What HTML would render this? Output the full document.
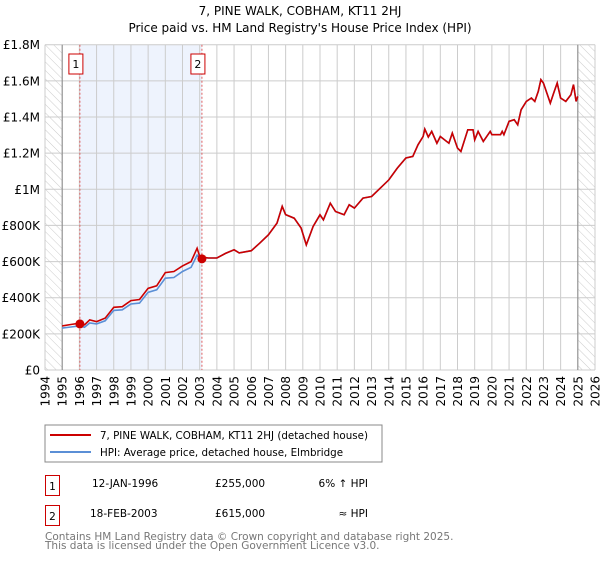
<!DOCTYPE html>
<html><head><meta charset="utf-8"><style>
body{margin:0;background:#fff;font-family:"Liberation Sans","DejaVu Sans",sans-serif;}
svg text{font-family:"DejaVu Sans","Liberation Sans",sans-serif;}
</style></head><body>
<svg id="c" width="600" height="560" xmlns="http://www.w3.org/2000/svg">
<defs><pattern id="hatch" width="6" height="6" patternUnits="userSpaceOnUse" patternTransform="rotate(-45)"><line x1="0" y1="0" x2="0" y2="6" stroke="#ccc" stroke-width="1"/></pattern></defs>
<text x="300" y="15" text-anchor="middle" font-size="12">7, PINE WALK, COBHAM, KT11 2HJ</text>
<text x="300" y="32" text-anchor="middle" font-size="12">Price paid vs. HM Land Registry's House Price Index (HPI)</text>
<g id="plot"></g>
<rect x="45" y="425" width="337" height="37" fill="#fff" stroke="#888"/>
<line x1="50" y1="435" x2="91" y2="435" stroke="#c00" stroke-width="2"/>
<text x="100" y="439" font-size="10.3">7, PINE WALK, COBHAM, KT11 2HJ (detached house)</text>
<line x1="50" y1="452" x2="91" y2="452" stroke="#5b8fd6" stroke-width="2"/>
<text x="100" y="456" font-size="10.3">HPI: Average price, detached house, Elmbridge</text>
<g font-size="10.5">
<rect x="45.5" y="475.5" width="14" height="20" fill="#fff" stroke="#c00"/>
<text x="52.5" y="490" text-anchor="middle">1</text>
<text x="92" y="487">12-JAN-1996</text>
<text x="215" y="487">£255,000</text>
<text x="368" y="487" text-anchor="end">6% ↑ HPI</text>
<rect x="45.5" y="505.5" width="14" height="20" fill="#fff" stroke="#c00"/>
<text x="52.5" y="520" text-anchor="middle">2</text>
<text x="90" y="517">18-FEB-2003</text>
<text x="215" y="517">£615,000</text>
<text x="368" y="517" text-anchor="end">≈ HPI</text>
</g>
<text x="45" y="540" font-size="10.5" fill="#777">Contains HM Land Registry data © Crown copyright and database right 2025.</text>
<text x="45" y="549" font-size="10.5" fill="#777">This data is licensed under the Open Government Licence v3.0.</text>
</svg>
<script>
const years=[1995,1995.5,1996,1996.3,1996.6,1997,1997.5,1998,1998.5,1999,1999.5,2000,2000.5,2001,2001.5,2002,2002.5,2002.85,2003,2003.5,2004,2004.5,2005,2005.3,2006,2006.5,2007,2007.5,2007.8,2008,2008.5,2008.9,2009.2,2009.6,2010,2010.2,2010.6,2010.9,2011.4,2011.7,2012,2012.5,2013,2013.5,2014,2014.5,2015,2015.4,2015.7,2016,2016.1,2016.3,2016.5,2016.8,2017,2017.5,2017.7,2018,2018.2,2018.6,2018.9,2019,2019.2,2019.5,2019.9,2020,2020.5,2020.6,2020.7,2021,2021.3,2021.5,2021.7,2022,2022.3,2022.5,2022.7,2022.85,2023,2023.4,2023.6,2023.8,2024,2024.3,2024.6,2024.75,2024.9,2025];
const priceValues=[244,252,259,250,277,268,287,347,350,384,390,452,466,539,545,576,600,674,628,620,620,645,665,648,660,702,748,813,905,860,840,786,692,794,859,831,923,877,859,914,896,951,960,1006,1052,1117,1173,1182,1246,1292,1333,1289,1320,1255,1292,1255,1311,1228,1209,1329,1329,1274,1320,1265,1320,1302,1302,1320,1302,1376,1385,1357,1440,1486,1505,1486,1542,1607,1588,1477,1533,1588,1505,1486,1523,1579,1486,1514];
const hpiValues=[232,238,244,236,260,255,272,330,333,365,370,430,444,508,512,545,568,636,620,620,620,645,665,648,660,702,748,813,905,860,840,786,692,794,859,831,923,877,859,914,896,951,960,1006,1052,1117,1173,1182,1246,1292,1333,1289,1320,1255,1292,1255,1311,1228,1209,1329,1329,1274,1320,1265,1320,1302,1302,1320,1302,1376,1385,1357,1440,1486,1505,1486,1542,1607,1588,1477,1533,1588,1505,1486,1523,1579,1486,1514];
const saleYears=[1996.03,2003.13];
const saleValues=[255,615];
const saleLabels=["1","2"];
const yTicks=[0,200,400,600,800,1000,1200,1400,1600,1800];
const yTickLabels=["£0","£200K","£400K","£600K","£800K","£1M","£1.2M","£1.4M","£1.6M","£1.8M"];
const xTicks=[1994,1995,1996,1997,1998,1999,2000,2001,2002,2003,2004,2005,2006,2007,2008,2009,2010,2011,2012,2013,2014,2015,2016,2017,2018,2019,2020,2021,2022,2023,2024,2025,2026];
const X0=45,X1=595,Y0=370,Y1=44.7;
const xs=v=>X0+(v-1994)/(2026-1994)*(X1-X0);
const ys=v=>Y0-v/1800*(Y0-Y1);
const NS="http://www.w3.org/2000/svg";
const g=document.getElementById('plot');
function mk(t,a){const e=document.createElementNS(NS,t);for(const k in a)e.setAttribute(k,a[k]);g.appendChild(e);return e;}
let e;
e=mk('rect',{x:xs(1996.03),y:Y1,width:xs(2003.13)-xs(1996.03),height:Y0-Y1,fill:'#eef3fd'});


e=mk('rect',{x:X0,y:Y1,width:xs(1995)-X0,height:Y0-Y1,fill:'url(#hatch)'});


e=mk('rect',{x:xs(2025),y:Y1,width:X1-xs(2025),height:Y0-Y1,fill:'url(#hatch)'});


xTicks.forEach((t,i)=>{
 e=mk('line',{x1:xs(t),x2:xs(t),y1:Y1,y2:Y0,stroke:'#ccc'});
 
 
 e=mk('text',{x:0,y:0,'font-size':12,'text-anchor':'end',transform:`translate(${xs(t)+4.5},${Y0+6}) rotate(-90)`});
 e.textContent=t;
 
 
});
yTicks.forEach((t,i)=>{
 e=mk('line',{x1:X0,x2:X1,y1:ys(t),y2:ys(t),stroke:'#ccc'});
 
 
 e=mk('text',{x:40,y:ys(t)+4.5,'font-size':12,'text-anchor':'end'});
 e.textContent=yTickLabels[i];
 
 
});
[1995,2025].forEach(t=>{
 e=mk('line',{x1:xs(t),x2:xs(t),y1:Y1,y2:Y0,stroke:'#888'});
 
 
});
saleYears.forEach((t,i)=>{
 e=mk('line',{x1:xs(t),x2:xs(t),y1:Y1,y2:Y0,stroke:'#e06060','stroke-dasharray':'2,2'});
 
 
 e=mk('rect',{x:xs(t)-11,y:54,width:14,height:20,fill:'#fff',stroke:'#c00'});
 
 
 e=mk('text',{x:xs(t)-4,y:68,'font-size':11,'text-anchor':'middle'});
 e.textContent=saleLabels[i];
 
 
});
const pts=v=>years.map((y,i)=>xs(y).toFixed(1)+','+ys(v[i]).toFixed(1)).join(' ');
e=mk('polyline',{points:pts(hpiValues),fill:'none',stroke:'#5b8fd6','stroke-width':1.6});


e=mk('polyline',{points:pts(priceValues),fill:'none',stroke:'#c00','stroke-width':1.6});


saleYears.forEach((t,i)=>{
 e=mk('circle',{cx:xs(t),cy:ys(saleValues[i]),r:4.5,fill:'#c00'});
 
 
});
</script>
</body></html>
